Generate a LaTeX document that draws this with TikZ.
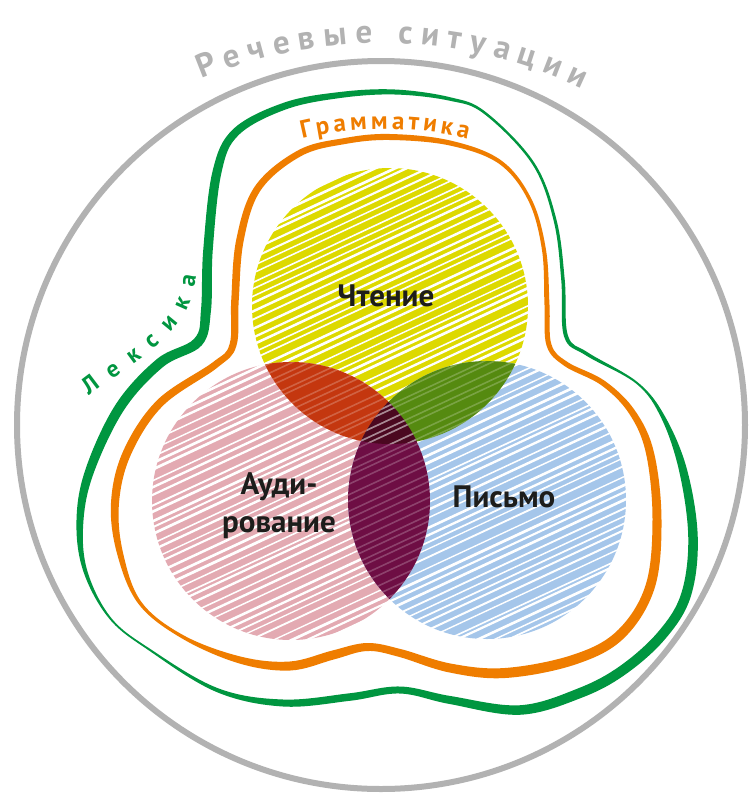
\documentclass[tikz,border=0pt]{standalone}
\usepackage{fontspec}
\setmainfont{PT Sans}
\usetikzlibrary{decorations.text}
\definecolor{greyc}{RGB}{178,178,178}
\definecolor{orangec}{RGB}{239,125,0}
\definecolor{greenc}{RGB}{0,150,64}
\definecolor{yelc}{RGB}{221,217,0}
\definecolor{pinkc}{RGB}{227,170,178}
\definecolor{bluec}{RGB}{165,198,234}
\definecolor{redx}{RGB}{196,55,15}
\definecolor{grnx}{RGB}{85,138,16}
\definecolor{purx}{RGB}{110,14,68}
\definecolor{darkx}{RGB}{75,8,32}
\definecolor{labelc}{RGB}{29,29,27}
\tikzset{
  lbl/.style={text=labelc, inner sep=0pt, font=\bfseries\fontsize{31}{38}\selectfont},
  hatch/.style={draw=white}
}
% variable-width closed band: #1 x-array, #2 y-array, #3 width-array, #4 count, #5 colour
\newcommand\myring[5]{%
  \gdef\outl{}\gdef\innl{}%
  \pgfmathtruncatemacro\mylast{#4-1}%
  \foreach \k in {0,...,\mylast} {
    \pgfmathtruncatemacro\kn{mod(\k+1,#4)}
    \pgfmathtruncatemacro\kp{mod(\k+#4-1,#4)}
    \pgfmathsetmacro\tx{#1[\kn]-#1[\kp]}
    \pgfmathsetmacro\ty{#2[\kn]-#2[\kp]}
    \pgfmathsetmacro\tl{veclen(\tx,\ty)}
    \pgfmathsetmacro\hw{0.5*#3[\k]}
    \pgfmathsetmacro\ax{#1[\k]-\hw*\ty/\tl}
    \pgfmathsetmacro\ay{#2[\k]+\hw*\tx/\tl}
    \pgfmathsetmacro\bx{#1[\k]+\hw*\ty/\tl}
    \pgfmathsetmacro\by{#2[\k]-\hw*\tx/\tl}
    \xdef\outl{\outl (\ax,\ay)}
    \xdef\innl{\innl (\bx,\by)}
  }%
  \edef\mytmp{\noexpand\fill[#5, even odd rule] plot[smooth cycle, tension=0.6] coordinates {\outl} plot[smooth cycle, tension=0.6] coordinates {\innl};}%
  \mytmp
}
\begin{document}
\begin{tikzpicture}[x=1pt,y=-1pt]
\useasboundingbox (0,0) rectangle (751,796);
\fill[white] (0,0) rectangle (751,796);
\def\Yc{(390,306) circle[radius=138]}
\def\Pc{(291,501) circle[radius=139]}
\def\Bc{(487,500) circle[radius=139]}
% base circles
\fill[yelc] \Yc;
\fill[pinkc] \Pc;
\fill[bluec] \Bc;
% white scribble gaps
\pgfmathsetseed{7}
\foreach \i in {0,...,72} {
  \pgfmathsetmacro\hc{266+8*\i+2.5*rand}
  \pgfmathsetmacro\hw{1.3+1.5*rnd}
  \draw[hatch, line width=\hw pt] (130,\hc) -- (660,\hc-247);
}
% overlaps
\begin{scope} \clip \Yc; \fill[redx] \Pc; \end{scope}
\begin{scope} \clip \Yc; \fill[grnx] \Bc; \end{scope}
\begin{scope} \clip \Pc; \fill[purx] \Bc; \end{scope}
\begin{scope} \clip \Yc; \clip \Pc; \fill[darkx] \Bc; \end{scope}
\foreach \A/\B in {\Yc/\Pc, \Yc/\Bc, \Pc/\Bc} {
  \begin{scope}
    \clip \A; \clip \B;
    \pgfmathsetseed{11}
    \foreach \i in {0,...,72} {
      \pgfmathsetmacro\hc{268+8*\i+2.5*rand}
      \draw[white, opacity=0.22, line width=1.6pt] (130,\hc) -- (660,\hc-247);
    }
  \end{scope}
}
% outer circle
\draw[greyc, line width=6pt] (381,425) circle[radius=364];
% orange band (Grammatika)
\def\OX{{390,450,500,530,544,547,549,566,603,632,650,657,650,620,573,505,450,400,367,333,290,240,183,140,120,115,127,160,215,233,235,240,258,300,345}}
\def\OY{{137,143,162,200,250,305,345,364,383,412,453,520,587,635,660,673,668,653,647,655,666,660,637,603,553,503,453,403,365,345,300,240,188,153,141}}
\def\OW{{6,5,4,3.5,4,5,5,5,5.5,6.5,8,9,9.5,10,10,10,9,8,8,9,9,7,3.5,3.5,6,8,8.5,8,7,7,7.5,7.5,7,6.5,6}}
\myring{\OX}{\OY}{\OW}{35}{orangec}
% green band (Leksika)
\def\GX{{395,450,485,533,555,563,566,587,637,663,683,693,686,662,623,580,520,450,400,350,283,217,150,110,85,80,90,120,160,198,206,208,217,236,285,340}}
\def\GY{{92,99,113,163,220,280,336,354,383,417,470,537,595,635,670,693,710,700,690,697,703,690,650,618,570,520,470,407,363,342,310,250,172,132,106,95}}
\def\GW{{5,3.5,2.5,2.5,3,3.5,4,3.5,2,4,8,9.5,10,10,10,10,9.5,8,7,7.5,7,4,2,2,4,7,9,10,10,10,10,9.5,9,8,7,6}}
\myring{\GX}{\GY}{\GW}{36}{greenc}
% curved texts
\coordinate (rc) at (381,510);
\coordinate (gc) at (385,487);
\path[decorate, decoration={text along path, text align={fit to path},
   text color=greyc, text={|\bfseries\fontsize{33}{33}\selectfont|Речевые ситуации}}]
   (rc) ++(-112.6:467) arc[start angle=-112.6, end angle=-64.5, radius=467];
\path[decorate, decoration={text along path, text align={fit to path},
   text color=orangec, text={|\bfseries\fontsize{25}{25}\selectfont|Грамматика}}]
   (gc) ++(-103.4:358) arc[start angle=-103.4, end angle=-76.6, radius=358];
\coordinate (lx1) at (89,396);
\coordinate (lx2) at (196,276);
\path[decorate, decoration={text along path, text align={fit to path},
   text color=greenc, text={|\bfseries\fontsize{24}{24}\selectfont|Лексика}}]
   (lx1) .. controls (140,356) and (190,336) .. (lx2);
% labels
\node[lbl] (rd) at (386,296) {Чтение};
\node[lbl, align=center] (au) at (279,506) {Ауди-\\рование};
\node[lbl] (pi) at (504,497) {Письмо};
\end{tikzpicture}
\end{document}
